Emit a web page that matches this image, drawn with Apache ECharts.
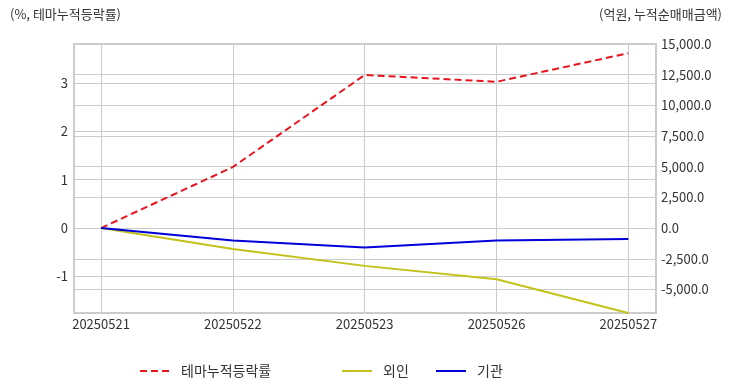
<!DOCTYPE html>
<html>
<head>
<meta charset="utf-8">
<script src="https://cdn.jsdelivr.net/npm/echarts@6/dist/echarts.min.js"></script>
<style>html,body{margin:0;padding:0;background:#fff}#c{width:732px;height:392px}</style>
</head>
<body>
<div id="c"></div>
<script>
const categories = ['20250521', '20250522', '20250523', '20250526', '20250527'];
const themeRate = [0, 1.26, 3.16, 3.02, 3.61];
const foreign = [0, -1700, -3080, -4170, -6920];
const institution = [0, -1020, -1590, -1020, -880];
const leftTicks = [-1, 0, 1, 2, 3];
const rightTicks = [-5000, -2500, 0, 2500, 5000, 7500, 10000, 12500, 15000];
const rightMin = -6920, rightMax = 15000;
const leftMax = 3.8, leftMin = leftMax * rightMin / rightMax;
const xMin = -0.205, xMax = 4.21;

const font = 'Noto Sans CJK KR';
const pairs = arr => arr.map((v, i) => [i, v]);
const fmt = v => v.toLocaleString('en-US', {minimumFractionDigits: 1, maximumFractionDigits: 1});
const legendText = {fontSize: 14, color: '#333', fontFamily: font, padding: [0, 0, 0, 6]};

const chart = echarts.init(document.getElementById('c'));
chart.setOption({
  animation: false,
  textStyle: {fontFamily: font},
  title: [
    {text: '(%, 테마누적등락률)', left: 10, top: 8, padding: 0, textStyle: {fontSize: 13, fontWeight: 'normal', color: '#333', fontFamily: font}},
    {text: '(억원, 누적순매매금액)', right: 10, top: 8, padding: 0, textStyle: {fontSize: 13, fontWeight: 'normal', color: '#333', fontFamily: font}}
  ],
  grid: {left: 74, right: 76, top: 44, bottom: 79, show: true, borderColor: '#ccc', borderWidth: 2, containLabel: false},
  legend: [
    {data: ['테마누적등락률'], left: 134, top: 359, itemWidth: 30, itemHeight: 2, textStyle: legendText},
    {data: ['외인'], left: 336, top: 359, itemWidth: 30, itemHeight: 2, textStyle: legendText},
    {data: ['기관'], left: 430, top: 359, itemWidth: 30, itemHeight: 2, textStyle: legendText}
  ],
  xAxis: {
    type: 'value', min: xMin, max: xMax, minInterval: 1, maxInterval: 1,
    axisLine: {show: false}, axisTick: {show: false},
    axisLabel: {
      customValues: categories.map((c, i) => i),
      formatter: v => categories[Math.round(v)] || '',
      fontSize: 13, color: '#333', margin: 5, fontFamily: font
    },
    splitLine: {show: true, lineStyle: {color: '#ccc', width: 1}}
  },
  yAxis: [
    {
      type: 'value', min: leftMin, max: leftMax, minInterval: 1, maxInterval: 1,
      axisLine: {show: false}, axisTick: {show: false},
      axisLabel: {customValues: leftTicks, formatter: v => String(Math.round(v)), fontSize: 13, color: '#333', margin: 6, fontFamily: font},
      splitLine: {show: true, lineStyle: {color: '#ccc', width: 1}}
    },
    {
      type: 'value', min: rightMin, max: rightMax, minInterval: 2500, maxInterval: 2500,
      position: 'right',
      axisLine: {show: false}, axisTick: {show: false},
      axisLabel: {customValues: rightTicks, formatter: v => fmt(v), fontSize: 13, color: '#333', margin: 5, fontFamily: font},
      splitLine: {show: true, lineStyle: {color: '#ccc', width: 1}}
    }
  ],
  series: [
    {name: '테마누적등락률', type: 'line', yAxisIndex: 0, data: pairs(themeRate), symbol: 'none',
      lineStyle: {color: '#e8141c', width: 2, type: [7, 4]}, itemStyle: {color: '#e8141c'}},
    {name: '외인', type: 'line', yAxisIndex: 1, data: pairs(foreign), symbol: 'none',
      lineStyle: {color: '#c2c21a', width: 2}, itemStyle: {color: '#c2c21a'}},
    {name: '기관', type: 'line', yAxisIndex: 1, data: pairs(institution), symbol: 'none',
      lineStyle: {color: '#0000d8', width: 2}, itemStyle: {color: '#0000d8'}}
  ]
});
</script>
</body>
</html>
